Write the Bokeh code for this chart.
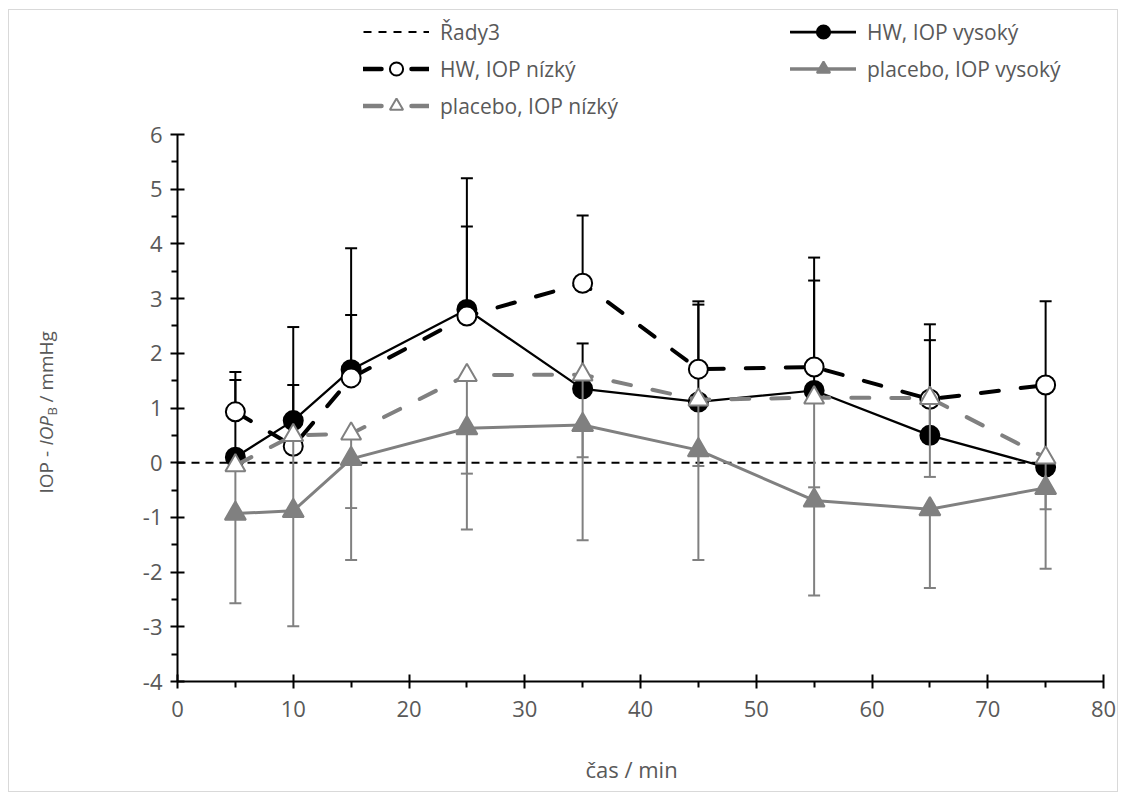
from bokeh.plotting import figure
from bokeh.models import (Range1d, FixedTicker, Legend, LegendItem, Label, ColumnDataSource,
                          Spacer)
from bokeh.layouts import column, row
from bokeh.embed import file_html
from bokeh.resources import INLINE

# ---------------- data ----------------
time_min = [5, 10, 15, 25, 35, 45, 55, 65, 75]

hw_high = [0.10, 0.77, 1.70, 2.80, 1.35, 1.11, 1.32, 0.50, -0.08]
hw_high_sd = [1.41, 0.65, 1.00, 1.52, 0.83, 1.78, 2.01, 1.74, 1.44]

hw_low = [0.93, 0.30, 1.55, 2.68, 3.28, 1.71, 1.75, 1.16, 1.42]
hw_low_sd = [0.73, 2.18, 2.37, 2.52, 1.24, 1.24, 2.00, 1.37, 1.53]

pl_high = [-0.93, -0.88, 0.07, 0.63, 0.69, 0.23, -0.69, -0.85, -0.46]
pl_high_sd = [1.64, 2.11, 1.85, 1.85, 2.11, 2.01, 1.74, 1.44, 1.48]

pl_low = [-0.05, 0.50, 0.53, 1.60, 1.61, 1.15, 1.19, 1.18, 0.09]
pl_low_sd = [0.90, 1.42, 1.36, 1.80, 1.51, 1.21, 1.64, 1.44, 0.94]

rady3_x = [0, 75]
rady3_y = [0, 0]

x_ticks = [0, 10, 20, 30, 40, 50, 60, 70, 80]
x_minor = [5, 15, 25, 35, 45, 55, 65, 75]
y_ticks = [-4, -3, -2, -1, 0, 1, 2, 3, 4, 5, 6]
y_minor = [-3.5, -2.5, -1.5, -0.5, 0.5, 1.5, 2.5, 3.5, 4.5, 5.5]

labels = ["Řady3", "HW, IOP vysoký", "HW, IOP nízký", "placebo, IOP vysoký", "placebo, IOP nízký"]
x_title = "čas / min"

# ---------------- style ----------------
FONT = "Open Sans"
TXT = "#595959"
GREY = "#808080"
TICK_FS = "22px"
LEG_FS = "21px"

STY = {
    "ref": dict(line_color="black", line_width=2, line_dash="8 6"),
    "hv": dict(color="black", lw=2.25, dash="solid", marker="circle", size=19, fill="black"),
    "hn": dict(color="black", lw=4, dash="18 22", marker="circle", size=19, fill="white"),
    "pv": dict(color=GREY, lw=3, dash="solid", marker="triangle", size=21, fill=GREY),
    "pn": dict(color=GREY, lw=4, dash="18 22", marker="triangle", size=20, fill="white"),
}

SERIES = {
    "ref": (rady3_x, rady3_y),
    "hv": (time_min, hw_high),
    "hn": (time_min, hw_low),
    "pv": (time_min, pl_high),
    "pn": (time_min, pl_low),
}


def bare(fig):
    fig.outline_line_color = None
    for g in fig.grid:
        g.visible = False
    return fig


def strip(w, h):
    return bare(figure(width=w, height=h, x_range=Range1d(0, 80), y_range=Range1d(-4, 6),
                       output_backend="svg", toolbar_location=None,
                       x_axis_location=None, y_axis_location=None, min_border=0))


# ---------------- main plot ----------------
p = figure(width=1010, height=621, x_range=Range1d(0, 80), y_range=Range1d(-4, 6),
           output_backend="svg", toolbar_location=None,
           min_border_left=70, min_border_right=14, min_border_top=14, min_border_bottom=60)
bare(p)

for ax in (p.xaxis[0], p.yaxis[0]):
    ax.axis_line_color = "black"
    ax.axis_line_width = 2
    ax.major_tick_line_color = "black"
    ax.major_tick_line_width = 2
    ax.minor_tick_line_color = "black"
    ax.minor_tick_line_width = 2
    ax.major_tick_in = 7
    ax.major_tick_out = 7
    ax.minor_tick_in = 0
    ax.minor_tick_out = 6
    ax.major_label_text_font = FONT
    ax.major_label_text_font_size = TICK_FS
    ax.major_label_text_color = TXT

p.xaxis.ticker = FixedTicker(ticks=x_ticks, minor_ticks=x_minor)
p.yaxis.ticker = FixedTicker(ticks=y_ticks, minor_ticks=y_minor)
p.yaxis.major_label_overrides = {t: str(t) for t in y_ticks}
p.xaxis.major_label_overrides = {t: str(t) for t in x_ticks}
p.xaxis.major_label_standoff = 12
p.yaxis.major_label_standoff = 8

p.line(*SERIES["ref"], **STY["ref"])


def series(y, sd, up, s):
    cap = [v + e if up else v - e for v, e in zip(y, sd)]
    src = ColumnDataSource(dict(x=time_min, y=y, cap=cap))
    p.line("x", "y", source=src, line_color=s["color"], line_width=s["lw"], line_dash=s["dash"],
           line_cap="round", line_join="round")
    p.segment(x0="x", y0="y", x1="x", y1="cap", source=src, line_color=s["color"], line_width=2)
    p.scatter("x", "cap", source=src, marker="dash", size=12, line_color=s["color"], line_width=2)
    p.scatter("x", "y", source=src, marker=s["marker"], size=s["size"], fill_color=s["fill"],
              line_color=s["color"], line_width=2)


series(hw_high, hw_high_sd, True, STY["hv"])
series(hw_low, hw_low_sd, True, STY["hn"])
series(pl_high, pl_high_sd, False, STY["pv"])
series(pl_low, pl_low_sd, False, STY["pn"])

# ---------------- legend strip ----------------
top = strip(1108, 110)


def legend_renderers(key):
    s = STY[key]
    xs, ys = SERIES[key]
    if key == "ref":
        rs = [top.line(xs, ys, line_color="black", line_width=2, line_dash="8 7")]
    else:
        ln = top.line(xs, ys, line_color=s["color"], line_width=s["lw"] + 0.5,
                      line_dash="18 30" if s["dash"] != "solid" else "solid", line_cap="round")
        mk = top.scatter(xs, ys, marker=s["marker"], size=s["size"], fill_color=s["fill"],
                         line_color=s["color"], line_width=2)
        rs = [ln, mk]
    for r in rs:
        r.visible = False
    return rs


def make_legend(items, loc):
    lg = Legend(items=items, location=loc, glyph_width=66, glyph_height=33, label_height=28,
                label_standoff=11, spacing=4, padding=0, margin=0,
                border_line_color=None, background_fill_alpha=0,
                inactive_fill_alpha=0, click_policy="none",
                label_text_font=FONT, label_text_font_size=LEG_FS, label_text_color=TXT)
    top.add_layout(lg, "center")


make_legend([LegendItem(label=labels[0], renderers=legend_renderers("ref")),
             LegendItem(label=labels[2], renderers=legend_renderers("hn")),
             LegendItem(label=labels[4], renderers=legend_renderers("pn"))], (354, -2))
make_legend([LegendItem(label=labels[1], renderers=legend_renderers("hv")),
             LegendItem(label=labels[3], renderers=legend_renderers("pv"))], (781, 35))

# ---------------- y axis title strip ----------------
left = strip(98, 621)

YFS = 19
ty0 = 188
tx = 36
pieces = [("IOP -", 0, "normal", YFS, 0),
          ("IOP", 48, "italic", YFS, 0),
          ("B", 78, "normal", 13, 6),
          ("/ mmHg", 91, "normal", YFS, 0)]
for txt, off, style, fs, dx in pieces:
    left.add_layout(Label(x=tx + dx, y=ty0 + off, x_units="screen", y_units="screen", text=txt,
                          angle=1.5707963, text_align="left", text_baseline="middle",
                          text_font=FONT, text_font_size=f"{fs}px", text_font_style=style,
                          text_color=TXT))

# ---------------- x axis title strip ----------------
bottom = strip(1108, 50)
bottom.add_layout(Label(x=576, y=23, x_units="screen", y_units="screen", text=x_title,
                        text_align="left", text_baseline="middle",
                        text_font=FONT, text_font_size=TICK_FS, text_color=TXT))

inner = column(top, row(left, p), bottom, styles={"border": "1px solid #d9d9d9"})
page = column(Spacer(height=9), row(Spacer(width=8), inner))

open("out.html", "w").write(file_html(page, INLINE))
